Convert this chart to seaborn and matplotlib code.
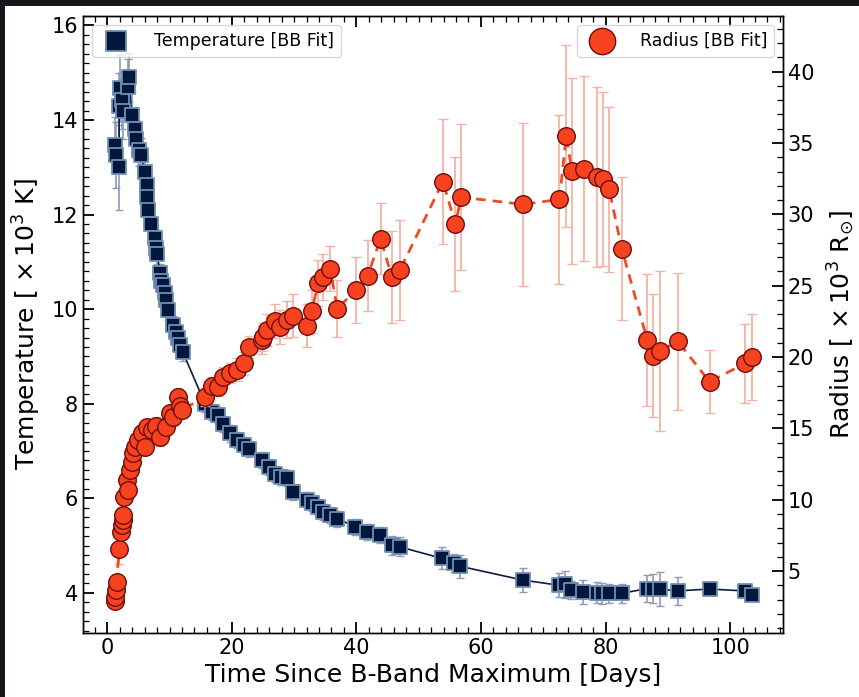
import numpy as np
import matplotlib
matplotlib.use("Agg")
import matplotlib.pyplot as plt
import seaborn as sns
from matplotlib.ticker import MultipleLocator
from matplotlib.patches import Rectangle

# ---------------- data ----------------
t_temp = [1.3, 1.4, 1.9, 1.9, 2.0, 2.3, 2.6, 3.4, 3.5, 3.9, 4.45, 4.6, 5.1, 5.4,
          6.05, 6.3, 6.4, 6.6, 7.0, 7.7, 7.8, 8.0, 8.5, 8.7, 9.0, 9.3, 9.5, 9.8,
          10.6, 11.1, 11.4, 11.7, 12.1,
          15.7, 16.8, 17.8, 18.6, 19.7, 20.8, 21.9, 22.8, 24.8, 25.9, 26.9, 27.9,
          28.8, 29.9, 32.0, 32.8, 33.9, 34.7, 35.8, 36.9, 39.8, 41.7, 43.8, 45.7,
          47.0, 53.7, 55.6, 56.7, 66.7, 72.5, 73.5, 74.4, 76.4, 78.6, 79.4, 80.5,
          82.6, 86.7, 87.7, 88.7, 91.6, 96.7, 102.4, 103.5]
temp = [13.47, 13.26, 13.00, 14.30, 14.67, 14.42, 14.20, 14.70, 14.91, 14.10, 13.82,
        13.60, 13.37, 13.26, 12.90, 12.62, 12.37, 12.09, 11.80, 11.50, 11.30, 11.16,
        10.76, 10.60, 10.50, 10.34, 10.19, 9.98, 9.66, 9.52, 9.38, 9.24, 9.10,
        8.00, 7.83, 7.76, 7.58, 7.37, 7.23, 7.12, 7.05, 6.80, 6.66, 6.52, 6.45,
        6.42, 6.14, 5.96, 5.89, 5.82, 5.71, 5.64, 5.57, 5.40, 5.29, 5.22, 5.01,
        4.97, 4.73, 4.63, 4.56, 4.27, 4.16, 4.18, 4.06, 4.02, 4.00, 3.99, 3.99,
        3.99, 4.09, 4.09, 4.08, 4.04, 4.08, 4.04, 3.95]
temp_err = [0.6, 0.7, 0.9, 0.7, 0.7, 0.6, 0.6, 0.6, 0.5, 0.5, 0.4, 0.4, 0.35, 0.35,
            0.3, 0.3, 0.25, 0.25, 0.25, 0.2, 0.2, 0.2, 0.2, 0.2, 0.2, 0.2, 0.2, 0.2,
            0.2, 0.2, 0.2, 0.2, 0.2,
            0.17, 0.17, 0.17, 0.17, 0.17, 0.17, 0.17, 0.17, 0.17, 0.17, 0.17, 0.17,
            0.17, 0.17, 0.17, 0.17, 0.17, 0.17, 0.17, 0.17, 0.17, 0.17, 0.17, 0.2,
            0.2, 0.23, 0.2, 0.25, 0.25, 0.25, 0.28, 0.2, 0.25, 0.22, 0.22, 0.2,
            0.2, 0.28, 0.3, 0.36, 0.29, 0.1, 0.1, 0.1]

t_rad = [1.2, 1.3, 1.4, 1.5, 1.9, 2.15, 2.3, 2.5, 2.6, 2.7, 3.1, 3.4, 3.6, 3.9, 4.2,
         4.5, 5.0, 5.5, 6.05, 6.3, 7.1, 7.9, 8.5, 9.5, 10.1, 10.6, 11.4, 11.7, 12.0,
         15.7, 16.8, 17.8, 18.6, 19.7, 20.8, 21.9, 22.8, 24.8, 25.0, 25.6, 26.9,
         27.7, 28.8, 29.9, 32.0, 32.8, 33.9, 34.7, 35.8, 36.9, 40.0, 41.8, 43.9,
         45.7, 47.0, 53.9, 55.9, 56.8, 66.8, 72.6, 73.7, 74.6, 76.6, 78.6, 79.6,
         80.6, 82.6, 86.7, 87.6, 88.7, 91.6, 96.7, 102.4, 103.5]
rad = [2.90, 3.20, 3.67, 4.20, 6.52, 7.75, 8.22, 8.60, 8.92, 10.2, 11.4, 10.7, 12.1,
       12.66, 13.25, 13.7, 14.2, 14.65, 13.7, 15.1, 14.9, 15.2, 14.4, 15.1, 16.05,
       15.8, 17.2, 16.6, 16.3,
       17.2, 18.0, 17.9, 18.6, 18.85, 19.1, 19.55, 20.7, 21.2, 21.4, 21.9, 22.5,
       22.1, 22.6, 22.9, 22.2, 23.2, 25.2, 25.6, 26.2, 23.4, 24.7, 25.7, 28.3,
       25.6, 26.1, 32.3, 29.3, 31.2, 30.7, 31.05, 35.5, 33.05, 33.2, 32.6, 32.45,
       31.75, 27.6, 21.2, 20.1, 20.4, 21.1, 18.27, 19.55, 20.0]
rad_err = [0.2, 0.2, 0.2, 0.2, 1.0, 0.4, 0.4, 0.4, 0.4, 0.4, 0.4, 0.4, 0.4, 0.4, 0.5,
           0.5, 0.5, 0.5, 0.5, 0.5, 0.6, 0.6, 0.6, 0.6, 0.6, 0.6, 0.6, 0.6, 0.6,
           0.6, 0.6, 0.6, 0.7, 0.7, 0.8, 0.8, 0.8, 1.0, 1.0, 1.1, 1.2,
           1.2, 1.3, 1.5, 1.5, 1.5, 1.6, 1.6, 1.6, 2.0, 2.3, 2.5, 2.5,
           3.2, 3.5, 4.35, 4.7, 5.1, 5.7, 5.9, 6.4, 6.5, 6.5, 6.3, 6.1,
           5.8, 5.0, 4.6, 4.3, 5.6, 4.8, 2.2, 2.8, 3.0]

# ---------------- style ----------------
sns.set_style("ticks")
plt.rcParams["font.family"] = ["DejaVu Sans"]
plt.rcParams["text.color"] = "black"
plt.rcParams["axes.labelcolor"] = "black"
plt.rcParams["xtick.color"] = "black"
plt.rcParams["ytick.color"] = "black"

T_FACE = "#03173d"
T_EDGE = "#6f8fb3"
T_ERR = "#8d9bb5"
R_FACE = "#f7421f"
R_EDGE = "#6e0d0d"
R_LINE = "#ef4a26"
R_ERR = "#f4b3a3"

fig = plt.figure(figsize=(8.59, 6.97), dpi=100)
fig.patch.set_facecolor("#14171c")
bg = Rectangle((5 / 859, 0), 1, 1 - 6 / 697, transform=fig.transFigure,
               facecolor="white", edgecolor="none")
bg.set_zorder(-100)
fig.add_artist(bg)

ax = fig.add_axes([83 / 859, 1 - 633 / 697, 700 / 859, 617 / 697])
ax.set_zorder(1)
ax2 = ax.twinx()
ax2.set_zorder(2)
ax.patch.set_alpha(0)
ax2.patch.set_alpha(0)

# Temperature
ax.errorbar(t_temp, temp, yerr=temp_err, fmt="none", ecolor=T_ERR, elinewidth=1.2,
            capsize=3, capthick=1.0, zorder=1)
sns.lineplot(x=t_temp, y=temp, estimator=None, sort=False, color="#0b1d3f",
             linewidth=1.2, ax=ax, zorder=2)
sns.scatterplot(x=t_temp, y=temp, marker="s", s=92, color=T_FACE, edgecolor=T_EDGE,
                linewidth=1.3, ax=ax, zorder=3, label="Temperature [BB Fit]")

# Radius
ax2.errorbar(t_rad, rad, yerr=rad_err, fmt="none", ecolor=R_ERR, elinewidth=1.3,
             capsize=3.5, capthick=1.0, zorder=1)
sns.lineplot(x=t_rad, y=rad, estimator=None, sort=False, color=R_LINE,
             linewidth=2.0, linestyle=(0, (3.5, 2.5)), ax=ax2, zorder=2)
sns.scatterplot(x=t_rad, y=rad, marker="o", s=160, color=R_FACE, edgecolor=R_EDGE,
                linewidth=1.0, ax=ax2, zorder=3, label="Radius [BB Fit]")

# limits
ax.set_xlim(-3.9, 108.5)
ax.set_ylim(3.15, 16.2)
ax2.set_ylim(0.66, 43.9)

# ticks
ax.xaxis.set_major_locator(MultipleLocator(20))
ax.xaxis.set_minor_locator(MultipleLocator(2))
ax.yaxis.set_major_locator(MultipleLocator(2))
ax.yaxis.set_minor_locator(MultipleLocator(0.2))
ax2.yaxis.set_major_locator(MultipleLocator(5))
ax2.yaxis.set_minor_locator(MultipleLocator(1))

ax.tick_params(axis="both", which="both", direction="in", labelsize=15,
               colors="black", labelcolor="black")
ax.tick_params(axis="x", which="both", top=True, bottom=True)
ax.tick_params(axis="y", which="both", left=True, right=False)
ax.tick_params(which="major", length=8, width=1.3)
ax.tick_params(which="minor", length=4.5, width=0.9)
ax2.tick_params(axis="y", which="both", direction="in", labelsize=15, right=True,
                left=False, colors="black", labelcolor="black")
ax2.tick_params(which="major", length=8, width=1.3)
ax2.tick_params(which="minor", length=4.5, width=0.9)

for a in (ax, ax2):
    for s in a.spines.values():
        s.set_visible(True)
        s.set_linewidth(1.0)
        s.set_color("black")

ax.set_xlabel("Time Since B-Band Maximum [Days]", fontsize=18, labelpad=4, color="black")
ax.set_ylabel(r"Temperature [ $\times\,10^3$ K]", fontsize=18, labelpad=6, color="black")
ax2.set_ylabel(r"Radius [ $\times\,10^3$ R$_{\odot}$]", fontsize=18, labelpad=8, color="black")

leg1 = ax.legend(loc="upper left", fontsize=12.5, markerscale=1.5, frameon=True,
                 borderaxespad=0.5, handletextpad=1.2)
leg2 = ax2.legend(loc="upper right", fontsize=12.5, markerscale=1.5, frameon=True,
                  borderaxespad=0.5, handletextpad=1.2)
for lg in (leg1, leg2):
    lg.get_frame().set_edgecolor("#d0d0d0")
    lg.get_frame().set_linewidth(1.0)
    for txt in lg.get_texts():
        txt.set_color("black")

fig.savefig("out.png", dpi=100, facecolor=fig.get_facecolor())
